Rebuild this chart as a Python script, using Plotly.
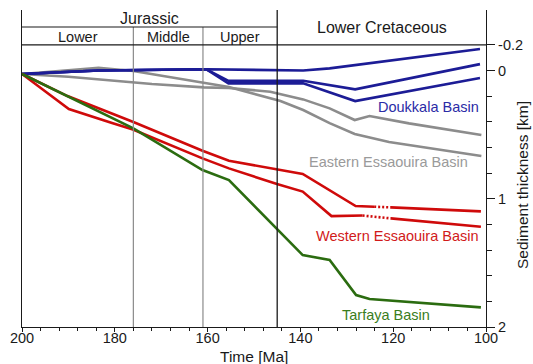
import plotly.graph_objects as go

# ---------------- data (ages in Ma, thickness in km) ----------------
doukkala_1_age = [200, 183.5, 160.3, 146.5, 139.4, 133.7, 101.3]
doukkala_1_thk = [0.027, 0.0, -0.01, -0.004, 0.0, -0.017, -0.168]
doukkala_2_age = [200, 183.5, 160.3, 155.5, 139.4, 128.2, 101.3]
doukkala_2_thk = [0.027, 0.0, -0.01, 0.080, 0.080, 0.147, -0.050]
doukkala_3_age = [200, 183.5, 160.3, 155.5, 139.4, 128.2, 101.3]
doukkala_3_thk = [0.027, 0.0, -0.01, 0.100, 0.100, 0.238, 0.058]

eastern_1_age = [200, 183.5, 176, 155.4, 144.3, 139.4, 133.7, 128.3, 120.9, 101.0]
eastern_1_thk = [0.027, -0.022, 0.004, 0.129, 0.238, 0.308, 0.410, 0.495, 0.558, 0.667]
eastern_2_age = [200, 190, 172, 160.8, 155.4, 146.5, 139.4, 133.7, 128.3, 125.1, 116.6, 101.0]
eastern_2_thk = [0.027, 0.048, 0.105, 0.131, 0.136, 0.165, 0.225, 0.295, 0.386, 0.355, 0.412, 0.503]

western_1_age = [200, 190.2, 176, 161.1, 155.4, 145.05, 139.5, 128.1, 124.1]
western_1_thk = [0.027, 0.199, 0.402, 0.626, 0.704, 0.771, 0.807, 1.057, 1.062]
western_1_gap_age = [124.1, 120.5]
western_1_gap_thk = [1.062, 1.067]
western_1_end_age = [120.5, 101.1]
western_1_end_thk = [1.067, 1.098]

western_2_age = [200, 189.9, 180.6, 176.1, 161.1, 155.4, 145.05, 139.5, 133.3, 126.6]
western_2_thk = [0.027, 0.300, 0.410, 0.460, 0.685, 0.763, 0.885, 0.944, 1.135, 1.131]
western_2_gap_age = [126.6, 120.5]
western_2_gap_thk = [1.131, 1.153]
western_2_end_age = [120.5, 101.1]
western_2_end_thk = [1.153, 1.218]

tarfaya_age = [200, 176, 161.1, 155.4, 139.5, 133.7, 128.0, 125.1, 101.1]
tarfaya_thk = [0.027, 0.451, 0.776, 0.854, 1.439, 1.478, 1.751, 1.782, 1.847]

epoch_boundaries = [176, 161]
period_boundary = 145
period_names = ["Jurassic", "Lower Cretaceous"]
epoch_names = ["Lower", "Middle", "Upper"]
x_ticks = [200, 180, 160, 140, 120, 100]
y_ticks = [-0.2, 0, 1, 2]
y_ticktext = ["-0.2", "0", "1", "2"]
y_minor = [0.2, 0.4, 0.6, 0.8, 1.2, 1.4, 1.6, 1.8]

# ---------------- styles ----------------
BLUE = "#1c1c96"
GRAY = "#8c8c8c"
RED = "#cf0a0a"
GREEN = "#2b6c10"
FONT = "Liberation Sans, Arial, sans-serif"
LW = 2.6

Y_TOP = -0.472
Y_PERIOD = -0.339
Y_EPOCH = -0.2
Y_BOTTOM = 2.0

fig = go.Figure()

def add(age, thk, color, dash="solid"):
    fig.add_trace(go.Scatter(x=age, y=thk, mode="lines",
                             line=dict(color=color, width=LW, dash=dash),
                             showlegend=False, hoverinfo="skip"))

add(eastern_1_age, eastern_1_thk, GRAY)
add(eastern_2_age, eastern_2_thk, GRAY)
add(doukkala_1_age, doukkala_1_thk, BLUE)
add(doukkala_2_age, doukkala_2_thk, BLUE)
add(doukkala_3_age, doukkala_3_thk, BLUE)
add(western_1_age, western_1_thk, RED)
add(western_1_gap_age, western_1_gap_thk, RED, "2px,2px")
add(western_1_end_age, western_1_end_thk, RED)
add(western_2_age, western_2_thk, RED)
add(western_2_gap_age, western_2_gap_thk, RED, "2px,2px")
add(western_2_end_age, western_2_end_thk, RED)
add(tarfaya_age, tarfaya_thk, GREEN)

shapes = []
for b in epoch_boundaries:
    shapes.append(dict(type="line", xref="x", yref="y", x0=b, x1=b, y0=Y_PERIOD, y1=Y_BOTTOM,
                       line=dict(color="#8a8a8a", width=1.2)))
shapes.append(dict(type="line", xref="x", yref="y", x0=period_boundary, x1=period_boundary,
                   y0=Y_TOP, y1=Y_BOTTOM, line=dict(color="#1a1a1a", width=1.3)))
shapes.append(dict(type="line", xref="x", yref="y", x0=200, x1=period_boundary,
                   y0=Y_PERIOD, y1=Y_PERIOD, line=dict(color="#1a1a1a", width=1.1)))
shapes.append(dict(type="line", xref="x", yref="y", x0=200, x1=100,
                   y0=Y_EPOCH, y1=Y_EPOCH, line=dict(color="#1a1a1a", width=1.1)))

ann = []
txt = dict(family=FONT, color="#1a1a1a")
ann.append(dict(x=(200 + period_boundary) / 2, y=(Y_TOP + Y_PERIOD) / 2, text=period_names[0],
                showarrow=False, xref="x", yref="y", font=dict(size=16, **txt)))
ann.append(dict(x=(period_boundary + 100) / 2, y=(Y_TOP + Y_EPOCH) / 2, text=period_names[1],
                showarrow=False, xref="x", yref="y", font=dict(size=16, **txt)))
edges = [200] + epoch_boundaries + [period_boundary]
for i, name in enumerate(epoch_names):
    ann.append(dict(x=(edges[i] + edges[i + 1]) / 2, y=(Y_PERIOD + Y_EPOCH) / 2 + 0.01, text=name,
                    showarrow=False, xref="x", yref="y", font=dict(size=14.5, **txt)))

ann.append(dict(x=101.1, y=0.287, text="Doukkala Basin", xanchor="right", showarrow=False,
                xref="x", yref="y", font=dict(size=14.5, family=FONT, color="#2b2ba6")))
ann.append(dict(x=103.4, y=0.711, text="Eastern Essaouira Basin", xanchor="right", showarrow=False,
                xref="x", yref="y", font=dict(size=14.5, family=FONT, color="#9a9a9a")))
ann.append(dict(x=101.0, y=1.291, text="Western Essaouira Basin", xanchor="right", showarrow=False,
                xref="x", yref="y", font=dict(size=14.5, family=FONT, color="#d11a1a")))
ann.append(dict(x=121.6, y=1.907, text="Tarfaya Basin", showarrow=False,
                xref="x", yref="y", font=dict(size=14.5, family=FONT, color="#3a7d1c")))

ann.append(dict(x=0.5, y=0, xref="paper", yref="paper", yanchor="top", yshift=-19,
                text="Time [Ma]", showarrow=False, font=dict(size=15.5, **txt)))
ann.append(dict(x=1, y=0.448, xref="paper", yref="paper", xanchor="center", yanchor="middle",
                xshift=37, textangle=-90, text="Sediment thickness [km]", showarrow=False,
                font=dict(size=15.5, **txt)))

fig.update_layout(
    width=533, height=364,
    margin=dict(l=19, r=45, t=10, b=37),
    paper_bgcolor="white", plot_bgcolor="white",
    shapes=shapes, annotations=ann,
    font=dict(family=FONT, size=14.5, color="#1a1a1a"),
    xaxis=dict(range=[200, 100], showgrid=False, zeroline=False, showline=True,
               linecolor="#1a1a1a", linewidth=1.3, ticks="outside", ticklen=4,
               tickcolor="#1a1a1a", tickvals=x_ticks, ticklabelstandoff=-7,
               tickfont=dict(size=14.5, family=FONT, color="#1a1a1a"),
               minor=dict(ticks="outside", ticklen=3, dtick=4, tick0=100, tickcolor="#1a1a1a")),
    yaxis=dict(range=[Y_BOTTOM, Y_TOP], side="right", showgrid=False, zeroline=False,
               showline=True, mirror=True, linecolor="#1a1a1a", linewidth=1.3,
               ticks="outside", ticklen=8, tickcolor="#1a1a1a",
               tickvals=y_ticks, ticktext=y_ticktext,
               tickfont=dict(size=14.5, family=FONT, color="#1a1a1a"),
               minor=dict(ticks="outside", ticklen=5, tickvals=y_minor, tickcolor="#1a1a1a")),
)

fig.write_html("out.html")
